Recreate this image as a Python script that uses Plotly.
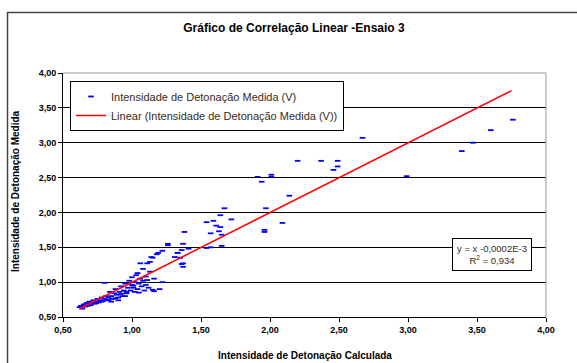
import plotly.graph_objects as go

calc_x = [0.62, 0.63, 0.64, 0.65, 0.66, 0.67, 0.68, 0.69, 0.70, 0.71, 0.72, 0.73, 0.74, 0.75,
          0.76, 0.77, 0.78, 0.79, 0.80, 0.80, 0.81, 0.82, 0.83, 0.84, 0.85, 0.86, 0.87, 0.88,
          0.89, 0.90, 0.91, 0.92, 0.93, 0.94, 0.95, 0.96, 0.97, 0.98, 0.99, 1.00, 1.00, 1.01,
          1.02, 1.03, 1.04, 1.04, 1.05, 1.05, 1.06, 1.06, 1.07, 1.08, 1.08, 1.09, 1.10, 1.10,
          1.11, 1.11, 1.12, 1.13, 1.14, 1.15, 1.16, 1.16, 1.18, 1.19, 1.20, 1.22, 1.22, 1.13,
          1.15, 1.26, 1.26, 1.33, 1.35, 1.36, 1.36, 1.37, 1.37, 1.37, 1.38, 1.41, 1.31, 1.33,
          1.54, 1.57, 1.65, 1.65, 1.57, 1.63, 1.64, 1.61, 1.59, 1.54, 1.72, 1.64, 1.67,
          1.96, 1.97, 2.09, 2.14, 1.94, 1.91, 2.01, 2.01, 2.20, 2.37, 2.46, 2.49, 2.49,
          2.67, 2.99, 3.39, 3.47, 3.60, 3.76, 1.96,
          0.70, 0.74, 0.78, 0.83, 0.88, 0.92, 0.96, 1.01, 0.85, 0.90, 0.95, 1.02]
meas_y = [0.64, 0.66, 0.62, 0.68, 0.65, 0.70, 0.66, 0.72, 0.68, 0.70, 0.74, 0.69, 0.72, 0.76,
          0.71, 0.74, 0.78, 0.73, 0.76, 0.99, 0.80, 0.75, 0.78, 0.86, 0.80, 0.76, 0.84, 0.90,
          0.82, 0.78, 0.86, 0.94, 0.80, 0.88, 0.98, 0.84, 0.92, 1.02, 0.88, 0.96, 1.07, 0.92,
          1.00, 1.10, 0.90, 1.13, 0.98, 0.85, 1.05, 1.27, 0.94, 1.19, 1.02, 0.88, 1.08, 0.96,
          1.27, 1.03, 0.92, 1.15, 1.36, 0.89, 0.87, 1.05, 1.40, 1.42, 0.90, 1.00, 1.45, 1.29,
          1.35, 1.53, 1.55, 1.42, 1.35, 1.46, 1.26, 1.55, 1.22, 1.27, 1.72, 1.48, 1.36, 1.42,
          1.49, 1.50, 1.52, 1.68, 1.70, 1.73, 1.79, 1.81, 1.88, 1.86, 1.90, 1.96, 2.06,
          1.75, 2.06, 1.85, 2.24, 2.44, 2.51, 2.51, 2.54, 2.74, 2.74, 2.61, 2.66, 2.74,
          3.07, 2.52, 2.88, 3.00, 3.18, 3.33, 1.72,
          0.67, 0.70, 0.72, 0.74, 0.77, 0.83, 0.86, 0.95, 0.72, 0.74, 0.80, 0.86]

# Linear trend line  y = x - 0.002
trend_x = [0.62, 3.75]
trend_y = [0.618, 3.748]

x_ticks = [0.5, 1.0, 1.5, 2.0, 2.5, 3.0, 3.5, 4.0]
y_ticks = [0.5, 1.0, 1.5, 2.0, 2.5, 3.0, 3.5, 4.0]

title = "Gráfico de Correlação Linear -Ensaio 3"
x_title = "Intensidade de Detonação Calculada"
y_title = "Intensidade de Detonação Medida"
eq_text = "y = x -0,0002E-3<br>R<sup>2</sup> = 0,934"

W, H = 577, 363
L, R, T, B = 63, 31, 73, 46
pw, ph = W - L - R, H - T - B

def px(xp):
    return (xp - L) / pw

def py(yp):
    return (H - B - yp) / ph

fig = go.Figure()
fig.add_trace(go.Scatter(
    x=calc_x, y=meas_y, mode="markers",
    name="Intensidade de Detonação Medida (V)",
    marker=dict(symbol="line-ew", size=4, line=dict(width=1.8, color="#0000ff"), color="#0000ff"),
))
fig.add_trace(go.Scatter(
    x=trend_x, y=trend_y, mode="lines",
    name="Linear (Intensidade de Detonação Medida (V))",
    line=dict(color="#ff0000", width=1.5),
))

tickfont = dict(family="Liberation Sans, Arial", size=9, color="black", weight="bold")

fig.update_layout(
    width=W, height=H,
    margin=dict(l=L, r=R, t=T, b=B),
    paper_bgcolor="white", plot_bgcolor="white",
    separators=",.",
    font=dict(family="Liberation Sans, Arial", color="black"),
    title=dict(text=title, x=294 / W, xanchor="center", y=(H - 28) / H, yanchor="middle",
               font=dict(size=12, weight="bold", color="black")),
    showlegend=True,
    legend=dict(x=px(70), y=py(81), xanchor="left", yanchor="top",
                bgcolor="white", bordercolor="black", borderwidth=1,
                font=dict(size=11, color="#3a2a20"), tracegroupgap=0),
    xaxis=dict(range=[0.5, 4.0], tickvals=x_ticks, tickformat=".2f", showgrid=False,
               zeroline=False, showline=True, linecolor="black", linewidth=1,
               ticks="outside", ticklen=4, tickcolor="black", tickfont=tickfont, mirror=False),
    yaxis=dict(range=[0.5, 4.0], tickvals=y_ticks, tickformat=".2f", showgrid=True,
               gridcolor="black", gridwidth=1, zeroline=False, showline=True,
               linecolor="black", linewidth=1, ticks="outside", ticklen=4,
               tickcolor="black", tickfont=tickfont),
)

# gray plot-area border (top and right)
fig.add_shape(type="line", xref="paper", yref="paper", x0=0, x1=1, y0=1, y1=1,
              line=dict(color="#999999", width=1))
fig.add_shape(type="line", xref="paper", yref="paper", x0=1, x1=1, y0=0, y1=1,
              line=dict(color="#999999", width=1))
# outer chart-area border
fig.add_shape(type="line", xref="paper", yref="paper", x0=px(7), x1=px(580), y0=py(12.5), y1=py(12.5),
              line=dict(color="#444444", width=1.5))
fig.add_shape(type="line", xref="paper", yref="paper", x0=px(7.5), x1=px(7.5), y0=py(12), y1=py(370),
              line=dict(color="#444444", width=1.5))

fig.add_annotation(text=y_title, xref="paper", yref="paper", x=px(15), y=py(191),
                   textangle=-90, showarrow=False, xanchor="center", yanchor="middle",
                   font=dict(size=10, weight="bold", color="black"))
fig.add_annotation(text=x_title, xref="paper", yref="paper", x=px(305), y=py(355),
                   showarrow=False, xanchor="center", yanchor="middle",
                   font=dict(size=10, weight="bold", color="black"))
fig.add_annotation(text=eq_text, xref="paper", yref="paper", x=px(492), y=py(254.5),
                   showarrow=False, xanchor="center", yanchor="middle", align="center",
                   bgcolor="white", bordercolor="black", borderwidth=1, borderpad=4,
                   font=dict(size=9.5, color="#3a2a20"))

fig.write_html("out.html")
